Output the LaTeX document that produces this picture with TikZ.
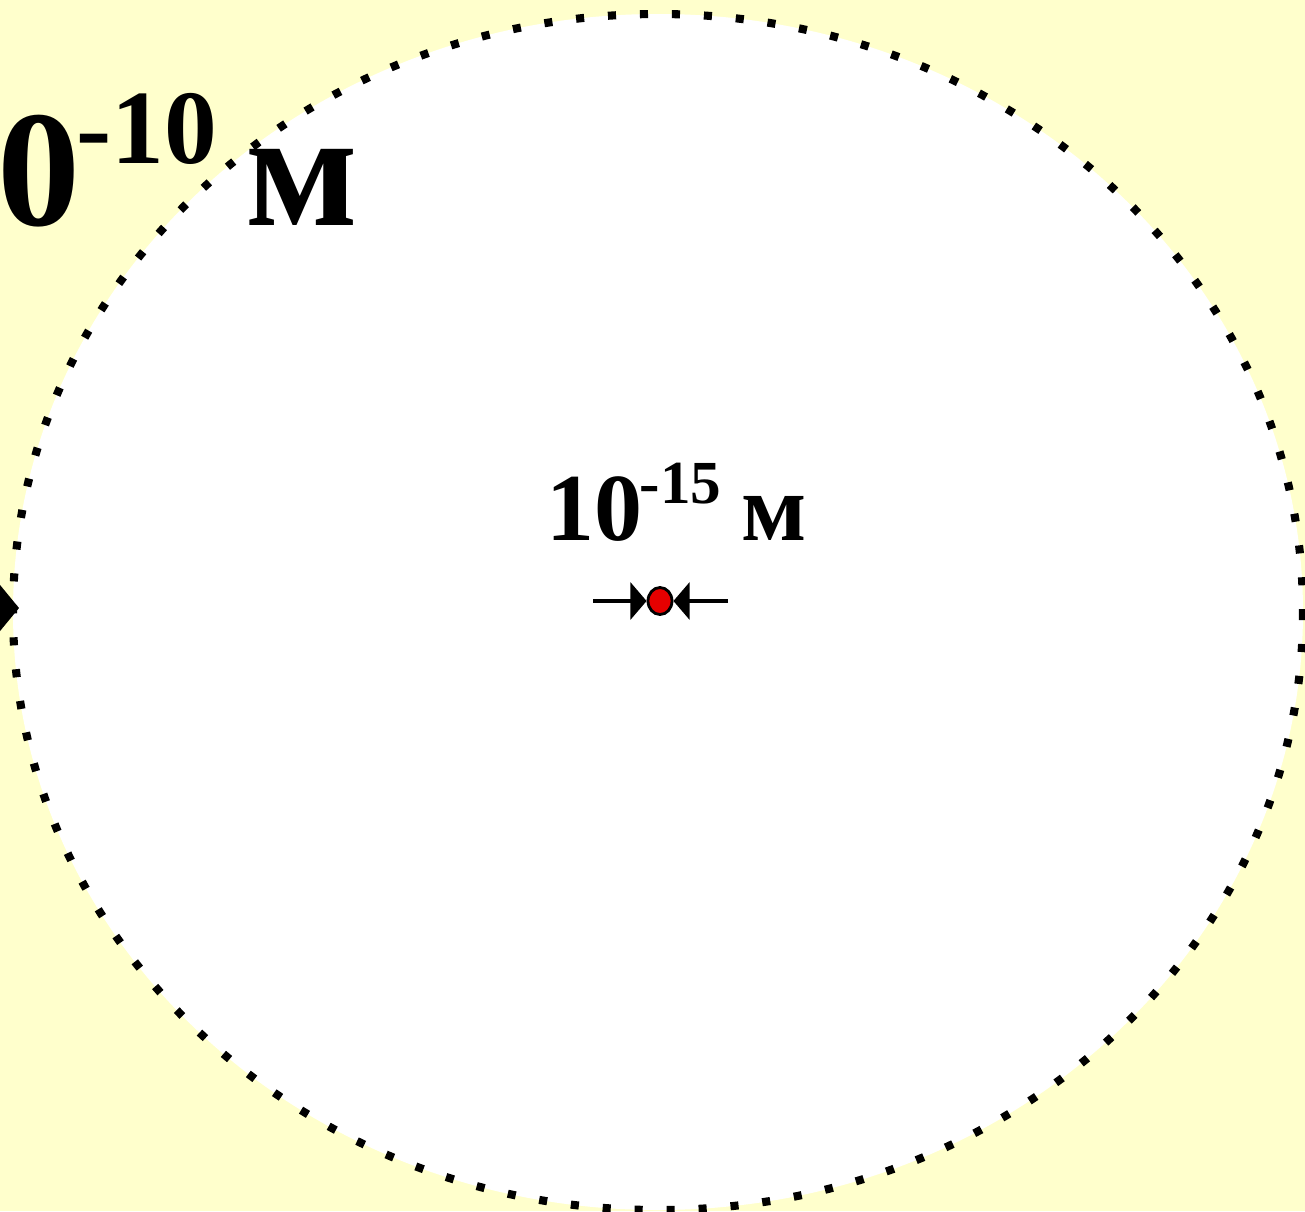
\documentclass[tikz,border=0pt]{standalone}
\usepackage{fontspec}
\setmainfont{Liberation Serif}
\usetikzlibrary{arrows.meta,shapes.geometric}
\definecolor{bgyellow}{HTML}{FFFFCC}
\definecolor{nucred}{HTML}{E60000}
\begin{document}
\begin{tikzpicture}[x=0.01cm,y=-0.01cm,
  bigtxt/.style={inner sep=0pt, anchor=base west, font=\bfseries\fontsize{47.2pt}{50pt}\selectfont},
  bigsup/.style={inner sep=0pt, anchor=base west, font=\bfseries\fontsize{30pt}{32pt}\selectfont},
  midtxt/.style={inner sep=0pt, anchor=base west, font=\bfseries\fontsize{27.3pt}{30pt}\selectfont},
  midsup/.style={inner sep=0pt, anchor=base west, font=\bfseries\fontsize{17.4pt}{19pt}\selectfont},
  orbit/.style={fill=white, draw=black, line width=2.3pt, dash pattern=on 2.3pt off 6.8pt},
  arr/.style={draw=black, line width=1pt, -{Triangle[length=4.6pt,width=10.5pt]}},
  bigarr/.style={draw=black, line width=1pt, -{Triangle[length=5.6pt,width=13.4pt]}}]
\useasboundingbox (0,0) rectangle (1305,1211);
\clip (0,0) rectangle (1305,1211);
\fill[bgyellow] (0,0) rectangle (1305,1211);
\draw[orbit] (658,612) ellipse [x radius=645, y radius=598];
% top-left label (its first digit lies outside the frame)
\node[bigtxt] (atomnum) at (-3,225) {0};
\node[bigsup] (atomsup) at (76,163) {-10};
\node[bigtxt] (atomunit) at (245,225) {м};
% centre label
\node[midtxt] (nucnum) at (546,540) {10};
\node[midsup] (nucsup) at (639,503) {-15};
\node[midtxt] (nucunit) at (741,540) {м};
% nucleus
\node[ellipse, draw=black, line width=0.8pt, fill=nucred, inner sep=0pt,
      minimum width=0.24cm, minimum height=0.27cm] (nucleus) at (660,601) {};
\coordinate (la) at (593,601);
\coordinate (ra) at (728,601);
\draw[arr] (la) -- (nucleus.west);
\draw[arr] (ra) -- (nucleus.east);
% arrow at the left edge of the atom
\coordinate (edgestart) at (-80,608);
\coordinate (edgetip) at (19,608);
\draw[bigarr] (edgestart) -- (edgetip);
\end{tikzpicture}
\end{document}
